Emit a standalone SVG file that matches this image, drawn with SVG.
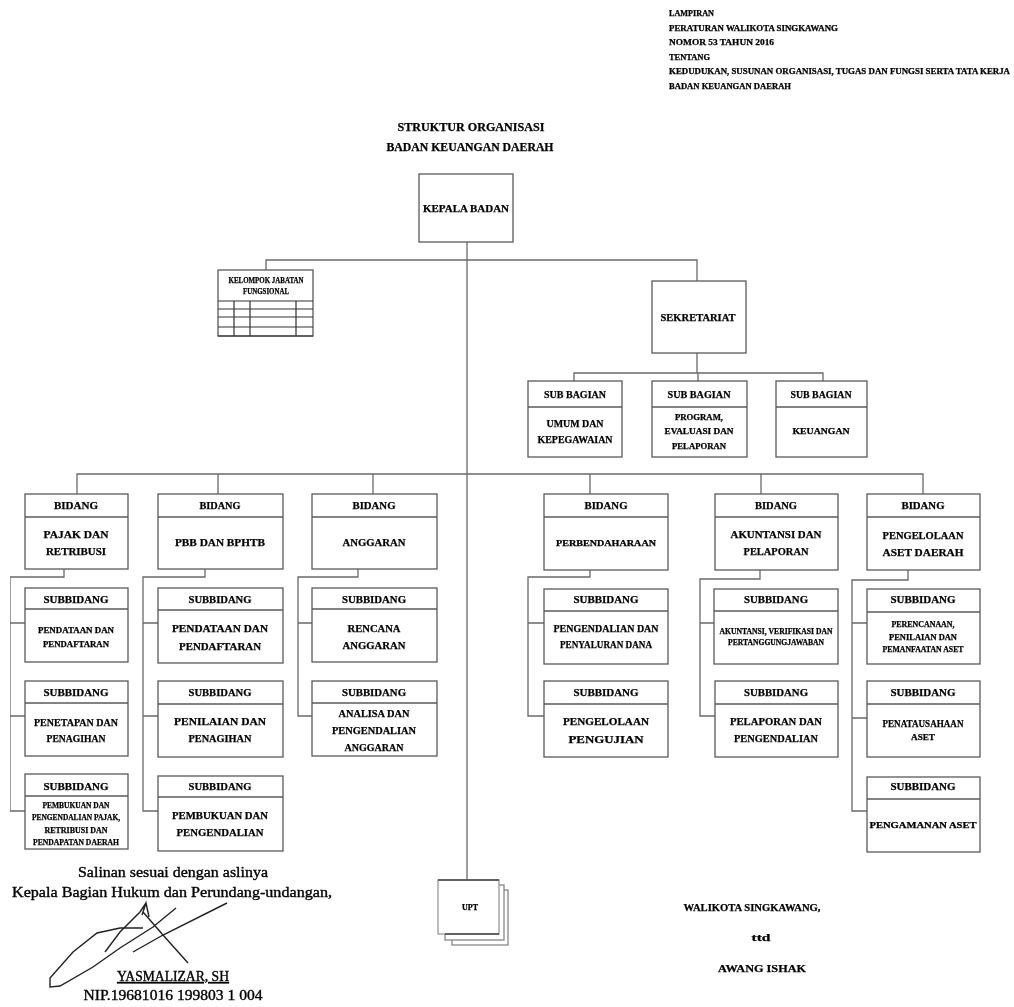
<svg xmlns="http://www.w3.org/2000/svg" width="1014" height="1007" viewBox="0 0 1014 1007">
<defs>
<style>
.b{fill:#fff;stroke:#5a5a5a;stroke-width:1.3}
.d{stroke:#5a5a5a;stroke-width:1.3;fill:none}
.g{stroke:#333;stroke-width:1.2;fill:none}
.c{stroke:#6a6a6a;stroke-width:1.3;fill:none}
text{font-family:"Liberation Serif","Noto Sans CJK SC",serif;fill:#000;stroke:#000;stroke-width:.25}
.l{font-size:11px;font-weight:bold;text-anchor:middle}
.s{font-size:8.5px;font-weight:bold;text-anchor:middle}
.t{font-size:8px;font-weight:bold}
.h{font-size:11.5px;font-weight:bold;text-anchor:middle}
.n{font-size:14px;text-anchor:middle;stroke-width:.35}
</style>
<filter id="soft" x="0" y="0" width="100%" height="100%"><feGaussianBlur stdDeviation="0.4"/></filter>
</defs>
<rect width="1014" height="1007" fill="#fff"/>
<g filter="url(#soft)">
<g id="connectors">
<path class="c" d="M467 242V880"/>
<path class="c" d="M266 270V260H697V281"/>
<path class="c" d="M697 353V373"/>
<path class="c" d="M574 381V373H823V381"/>
<path class="c" d="M698 373V381"/>
<path class="c" d="M77 494V474H923V494"/>
<path class="c" d="M218 474V494M373 474V494M590 474V494M761 474V494"/>
<path class="c" d="M64 569V577H10V811H25M10 623H25M10 716H25"/>
<path class="c" d="M205 569V577H143V811H158M143 623H158M143 716H158"/>
<path class="c" d="M358 569V577H298V716H312M298 623H312"/>
<path class="c" d="M590 570V577H528V716H544M528 623H544"/>
<path class="c" d="M760 570V579H700V716H715M700 623H715"/>
<path class="c" d="M908 570V580H852V811H867M852 623H867M852 718H867"/>
</g>
<g id="lampiran">
<text class="t" x="669" y="16" textLength="45" lengthAdjust="spacingAndGlyphs">LAMPIRAN</text>
<text class="t" x="669" y="31" textLength="169" lengthAdjust="spacingAndGlyphs">PERATURAN WALIKOTA SINGKAWANG</text>
<text class="t" x="669" y="45" textLength="105" lengthAdjust="spacingAndGlyphs">NOMOR 53 TAHUN 2016</text>
<text class="t" x="669" y="60" textLength="41" lengthAdjust="spacingAndGlyphs">TENTANG</text>
<text class="t" x="669" y="74" textLength="341" lengthAdjust="spacingAndGlyphs">KEDUDUKAN, SUSUNAN ORGANISASI, TUGAS DAN FUNGSI SERTA TATA KERJA</text>
<text class="t" x="669" y="89" textLength="122" lengthAdjust="spacingAndGlyphs">BADAN KEUANGAN DAERAH</text>
</g>
<g id="judul">
<text class="h" x="471" y="131" textLength="147" lengthAdjust="spacingAndGlyphs">STRUKTUR ORGANISASI</text>
<text class="h" x="470" y="151" textLength="167" lengthAdjust="spacingAndGlyphs">BADAN KEUANGAN DAERAH</text>
</g>
<g id="kepala">
<rect class="b" x="419" y="174" width="94" height="68"/>
<text class="l" x="466" y="212" textLength="86" lengthAdjust="spacingAndGlyphs">KEPALA BADAN</text>
</g>
<g id="jabatan-fungsional">
<rect class="b" x="218" y="270" width="95" height="66"/>
<path class="g" d="M218 301H313M218 309H313M218 317H313M218 327H313M218 336H313M234 301V336M250 301V336M296 301V336"/>
<text class="s" x="266" y="283" textLength="75" lengthAdjust="spacingAndGlyphs">KELOMPOK JABATAN</text>
<text class="s" x="266" y="294" textLength="46" lengthAdjust="spacingAndGlyphs">FUNGSIONAL</text>
</g>
<g id="sekretariat">
<rect class="b" x="652" y="281" width="94" height="72"/>
<text class="l" x="698" y="321" textLength="75" lengthAdjust="spacingAndGlyphs">SEKRETARIAT</text>
</g>
<g id="subbag-umum">
<rect class="b" x="528" y="381" width="94" height="76"/><path class="d" d="M528 407H622"/>
<text class="l" x="575" y="398" textLength="62" lengthAdjust="spacingAndGlyphs">SUB BAGIAN</text>
<text class="l" x="575" y="427" textLength="57" lengthAdjust="spacingAndGlyphs">UMUM DAN</text>
<text class="l" x="575" y="443" textLength="75" lengthAdjust="spacingAndGlyphs">KEPEGAWAIAN</text>
</g>
<g id="subbag-program">
<rect class="b" x="652" y="381" width="95" height="76"/><path class="d" d="M652 407H747"/>
<text class="l" x="699" y="398" textLength="63" lengthAdjust="spacingAndGlyphs">SUB BAGIAN</text>
<text class="s" x="699" y="420" textLength="48" lengthAdjust="spacingAndGlyphs">PROGRAM,</text>
<text class="s" x="699" y="434" textLength="69" lengthAdjust="spacingAndGlyphs">EVALUASI DAN</text>
<text class="s" x="699" y="449" textLength="54" lengthAdjust="spacingAndGlyphs">PELAPORAN</text>
</g>
<g id="subbag-keuangan">
<rect class="b" x="776" y="381" width="91" height="76"/><path class="d" d="M776 407H867"/>
<text class="l" x="821" y="398" textLength="61" lengthAdjust="spacingAndGlyphs">SUB BAGIAN</text>
<text class="s" x="821" y="434" textLength="57" lengthAdjust="spacingAndGlyphs">KEUANGAN</text>
</g>
<g id="bidang-pajak">
<rect class="b" x="25" y="494" width="103" height="75"/><path class="d" d="M25 517H128"/>
<text class="l" x="76" y="509" textLength="44" lengthAdjust="spacingAndGlyphs">BIDANG</text>
<text class="l" x="76" y="538" textLength="65" lengthAdjust="spacingAndGlyphs">PAJAK DAN</text>
<text class="l" x="76" y="555" textLength="60" lengthAdjust="spacingAndGlyphs">RETRIBUSI</text>
</g>
<g id="sub-pajak-1">
<rect class="b" x="25" y="588" width="103" height="74"/><path class="d" d="M25 609H128"/>
<text class="l" x="76" y="603" textLength="65" lengthAdjust="spacingAndGlyphs">SUBBIDANG</text>
<text class="s" x="76" y="633" textLength="76" lengthAdjust="spacingAndGlyphs">PENDATAAN DAN</text>
<text class="s" x="76" y="647" textLength="66" lengthAdjust="spacingAndGlyphs">PENDAFTARAN</text>
</g>
<g id="sub-pajak-2">
<rect class="b" x="25" y="681" width="103" height="75"/><path class="d" d="M25 703H128"/>
<text class="l" x="76" y="696" textLength="65" lengthAdjust="spacingAndGlyphs">SUBBIDANG</text>
<text class="l" x="76" y="726" textLength="84" lengthAdjust="spacingAndGlyphs">PENETAPAN DAN</text>
<text class="l" x="76" y="742" textLength="59" lengthAdjust="spacingAndGlyphs">PENAGIHAN</text>
</g>
<g id="sub-pajak-3">
<rect class="b" x="25" y="774" width="103" height="75"/><path class="d" d="M25 796H128"/>
<text class="l" x="76" y="790" textLength="65" lengthAdjust="spacingAndGlyphs">SUBBIDANG</text>
<text class="s" x="76" y="808" textLength="67" lengthAdjust="spacingAndGlyphs">PEMBUKUAN DAN</text>
<text class="s" x="76" y="820" textLength="88" lengthAdjust="spacingAndGlyphs">PENGENDALIAN PAJAK,</text>
<text class="s" x="76" y="833" textLength="63" lengthAdjust="spacingAndGlyphs">RETRIBUSI DAN</text>
<text class="s" x="76" y="845" textLength="86" lengthAdjust="spacingAndGlyphs">PENDAPATAN DAERAH</text>
</g>
<g id="bidang-pbb">
<rect class="b" x="158" y="494" width="125" height="75"/><path class="d" d="M158 517H283"/>
<text class="l" x="220" y="509" textLength="41" lengthAdjust="spacingAndGlyphs">BIDANG</text>
<text class="l" x="220" y="546" textLength="90" lengthAdjust="spacingAndGlyphs">PBB DAN BPHTB</text>
</g>
<g id="sub-pbb-1">
<rect class="b" x="158" y="588" width="125" height="75"/><path class="d" d="M158 610H283"/>
<text class="l" x="220" y="603" textLength="63" lengthAdjust="spacingAndGlyphs">SUBBIDANG</text>
<text class="l" x="220" y="632" textLength="96" lengthAdjust="spacingAndGlyphs">PENDATAAN DAN</text>
<text class="l" x="220" y="650" textLength="82" lengthAdjust="spacingAndGlyphs">PENDAFTARAN</text>
</g>
<g id="sub-pbb-2">
<rect class="b" x="158" y="681" width="125" height="76"/><path class="d" d="M158 704H283"/>
<text class="l" x="220" y="696" textLength="63" lengthAdjust="spacingAndGlyphs">SUBBIDANG</text>
<text class="l" x="220" y="725" textLength="92" lengthAdjust="spacingAndGlyphs">PENILAIAN DAN</text>
<text class="l" x="220" y="742" textLength="63" lengthAdjust="spacingAndGlyphs">PENAGIHAN</text>
</g>
<g id="sub-pbb-3">
<rect class="b" x="158" y="776" width="125" height="75"/><path class="d" d="M158 797H283"/>
<text class="l" x="220" y="790" textLength="63" lengthAdjust="spacingAndGlyphs">SUBBIDANG</text>
<text class="l" x="220" y="819" textLength="96" lengthAdjust="spacingAndGlyphs">PEMBUKUAN DAN</text>
<text class="l" x="220" y="836" textLength="87" lengthAdjust="spacingAndGlyphs">PENGENDALIAN</text>
</g>
<g id="bidang-anggaran">
<rect class="b" x="312" y="494" width="125" height="75"/><path class="d" d="M312 517H437"/>
<text class="l" x="374" y="509" textLength="43" lengthAdjust="spacingAndGlyphs">BIDANG</text>
<text class="l" x="374" y="546" textLength="63" lengthAdjust="spacingAndGlyphs">ANGGARAN</text>
</g>
<g id="sub-anggaran-1">
<rect class="b" x="312" y="588" width="125" height="74"/><path class="d" d="M312 609H437"/>
<text class="l" x="374" y="603" textLength="64" lengthAdjust="spacingAndGlyphs">SUBBIDANG</text>
<text class="l" x="374" y="632" textLength="53" lengthAdjust="spacingAndGlyphs">RENCANA</text>
<text class="l" x="374" y="649" textLength="63" lengthAdjust="spacingAndGlyphs">ANGGARAN</text>
</g>
<g id="sub-anggaran-2">
<rect class="b" x="312" y="681" width="125" height="75"/><path class="d" d="M312 703H437"/>
<text class="l" x="374" y="696" textLength="64" lengthAdjust="spacingAndGlyphs">SUBBIDANG</text>
<text class="l" x="374" y="717" textLength="71" lengthAdjust="spacingAndGlyphs">ANALISA DAN</text>
<text class="l" x="374" y="734" textLength="84" lengthAdjust="spacingAndGlyphs">PENGENDALIAN</text>
<text class="l" x="374" y="751" textLength="59" lengthAdjust="spacingAndGlyphs">ANGGARAN</text>
</g>
<g id="bidang-perbendaharaan">
<rect class="b" x="544" y="494" width="124" height="76"/><path class="d" d="M544 517H668"/>
<text class="l" x="606" y="509" textLength="43" lengthAdjust="spacingAndGlyphs">BIDANG</text>
<text class="s" x="606" y="546" textLength="100" lengthAdjust="spacingAndGlyphs">PERBENDAHARAAN</text>
</g>
<g id="sub-perbendaharaan-1">
<rect class="b" x="544" y="589" width="124" height="75"/><path class="d" d="M544 611H668"/>
<text class="l" x="606" y="603" textLength="65" lengthAdjust="spacingAndGlyphs">SUBBIDANG</text>
<text class="l" x="606" y="632" textLength="105" lengthAdjust="spacingAndGlyphs">PENGENDALIAN DAN</text>
<text class="l" x="606" y="648" textLength="92" lengthAdjust="spacingAndGlyphs">PENYALURAN DANA</text>
</g>
<g id="sub-perbendaharaan-2">
<rect class="b" x="544" y="681" width="124" height="76"/><path class="d" d="M544 704H668"/>
<text class="l" x="606" y="696" textLength="65" lengthAdjust="spacingAndGlyphs">SUBBIDANG</text>
<text class="l" x="606" y="725" textLength="86" lengthAdjust="spacingAndGlyphs">PENGELOLAAN</text>
<text class="l" x="606" y="743" textLength="75" lengthAdjust="spacingAndGlyphs">PENGUJIAN</text>
</g>
<g id="bidang-akuntansi">
<rect class="b" x="715" y="494" width="123" height="76"/><path class="d" d="M715 517H838"/>
<text class="l" x="776" y="509" textLength="42" lengthAdjust="spacingAndGlyphs">BIDANG</text>
<text class="l" x="776" y="538" textLength="91" lengthAdjust="spacingAndGlyphs">AKUNTANSI DAN</text>
<text class="l" x="776" y="555" textLength="65" lengthAdjust="spacingAndGlyphs">PELAPORAN</text>
</g>
<g id="sub-akuntansi-1">
<rect class="b" x="714" y="589" width="124" height="75"/><path class="d" d="M714 611H838"/>
<text class="l" x="776" y="603" textLength="64" lengthAdjust="spacingAndGlyphs">SUBBIDANG</text>
<text class="s" x="776" y="634" textLength="113" lengthAdjust="spacingAndGlyphs">AKUNTANSI, VERIFIKASI DAN</text>
<text class="s" x="776" y="645" textLength="96" lengthAdjust="spacingAndGlyphs">PERTANGGUNGJAWABAN</text>
</g>
<g id="sub-akuntansi-2">
<rect class="b" x="715" y="681" width="123" height="76"/><path class="d" d="M715 704H838"/>
<text class="l" x="776" y="696" textLength="64" lengthAdjust="spacingAndGlyphs">SUBBIDANG</text>
<text class="l" x="776" y="725" textLength="92" lengthAdjust="spacingAndGlyphs">PELAPORAN DAN</text>
<text class="l" x="776" y="742" textLength="84" lengthAdjust="spacingAndGlyphs">PENGENDALIAN</text>
</g>
<g id="bidang-aset">
<rect class="b" x="867" y="494" width="113" height="76"/><path class="d" d="M867 517H980"/>
<text class="l" x="923" y="509" textLength="43" lengthAdjust="spacingAndGlyphs">BIDANG</text>
<text class="l" x="923" y="539" textLength="81" lengthAdjust="spacingAndGlyphs">PENGELOLAAN</text>
<text class="l" x="923" y="556" textLength="81" lengthAdjust="spacingAndGlyphs">ASET DAERAH</text>
</g>
<g id="sub-aset-1">
<rect class="b" x="867" y="589" width="113" height="75"/><path class="d" d="M867 612H980"/>
<text class="l" x="923" y="603" textLength="65" lengthAdjust="spacingAndGlyphs">SUBBIDANG</text>
<text class="s" x="923" y="627" textLength="63" lengthAdjust="spacingAndGlyphs">PERENCANAAN,</text>
<text class="s" x="923" y="640" textLength="68" lengthAdjust="spacingAndGlyphs">PENILAIAN DAN</text>
<text class="s" x="923" y="652" textLength="81" lengthAdjust="spacingAndGlyphs">PEMANFAATAN ASET</text>
</g>
<g id="sub-aset-2">
<rect class="b" x="867" y="681" width="113" height="76"/><path class="d" d="M867 704H980"/>
<text class="l" x="923" y="696" textLength="65" lengthAdjust="spacingAndGlyphs">SUBBIDANG</text>
<text class="l" x="923" y="727" textLength="81" lengthAdjust="spacingAndGlyphs">PENATAUSAHAAN</text>
<text class="s" x="923" y="740" textLength="24" lengthAdjust="spacingAndGlyphs">ASET</text>
</g>
<g id="sub-aset-3">
<rect class="b" x="867" y="777" width="113" height="75"/><path class="d" d="M867 799H980"/>
<text class="l" x="923" y="790" textLength="65" lengthAdjust="spacingAndGlyphs">SUBBIDANG</text>
<text class="s" x="923" y="828" textLength="107" lengthAdjust="spacingAndGlyphs">PENGAMANAN ASET</text>
</g>
<g id="upt">
<rect class="b" x="452" y="890" width="56" height="55" style="stroke:#888"/>
<rect class="b" x="445" y="885" width="59" height="55" style="stroke:#888"/>
<rect class="b" x="438" y="880" width="61" height="54" style="stroke:#999"/>
<path class="d" d="M438 880H499M445 934H499" style="stroke:#444"/>
<text class="s" x="470" y="910" textLength="16" lengthAdjust="spacingAndGlyphs">UPT</text>
</g>
<g id="pengesahan">
<text class="n" x="173" y="877" textLength="190" lengthAdjust="spacingAndGlyphs">Salinan sesuai dengan aslinya</text>
<text class="n" x="172" y="897" textLength="320" lengthAdjust="spacingAndGlyphs">Kepala Bagian Hukum dan Perundang-undangan,</text>
<path fill="none" stroke="#222" stroke-width="1.4" d="M143 928L120 928L97 933L73 952L50 978L50 987L60 986L93 967L120 948L153 927L176 908M146 903L140 912L120 932L105 952M133 952L163 935L227 903M143 912L163 935L188 963M142 915L146 903L149 917"/>
<text class="n" x="173" y="981" textLength="112" lengthAdjust="spacingAndGlyphs" text-decoration="underline">YASMALIZAR, SH</text>
<text class="n" x="173" y="1000" textLength="179" lengthAdjust="spacingAndGlyphs">NIP.19681016 199803 1 004</text>
</g>
<g id="walikota">
<text class="l" x="752" y="911" textLength="137" lengthAdjust="spacingAndGlyphs">WALIKOTA SINGKAWANG,</text>
<text class="l" x="761" y="941" textLength="19" lengthAdjust="spacingAndGlyphs">ttd</text>
<text class="l" x="762" y="972" textLength="88" lengthAdjust="spacingAndGlyphs">AWANG ISHAK</text>
</g>
</g>
</svg>
